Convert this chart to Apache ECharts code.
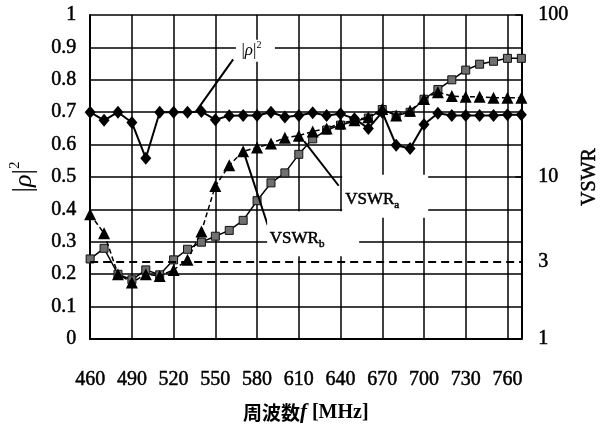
<!DOCTYPE html>
<html>
<head>
<meta charset="utf-8">
<script src="https://cdn.jsdelivr.net/npm/echarts@6/dist/echarts.min.js"></script>
<style>
  html, body { margin: 0; padding: 0; background: #fff; }
  #c { width: 608px; height: 428px; }
</style>
</head>
<body>
<div id="c"></div>
<script>
// Frequencies [MHz]
const freqs = [460, 470, 480, 490, 500, 510, 520, 530, 540, 550, 560, 570, 580, 590, 600, 610,
               620, 630, 640, 650, 660, 670, 680, 690, 700, 710, 720, 730, 740, 750, 760, 770];
// |rho|^2 (left axis)
const rho2 = [0.70, 0.675, 0.70, 0.668, 0.558, 0.70, 0.70, 0.70, 0.702, 0.677, 0.689, 0.69, 0.69, 0.70, 0.685, 0.69,
              0.698, 0.69, 0.695, 0.68, 0.65, 0.70, 0.598, 0.588, 0.662, 0.697, 0.69, 0.69, 0.69, 0.69, 0.692, 0.692];
// VSWR_a (squares, right log axis)
const vswrA = [3.12, 3.63, 2.51, 2.32, 2.67, 2.49, 3.08, 3.58, 3.96, 4.31, 4.68, 5.40, 7.14, 9.20, 10.6, 13.8,
               17.2, 19.5, 20.9, 22.1, 23.1, 26.1, 24.0, 25.1, 30.2, 34.7, 39.8, 45.7, 49.7, 51.8, 54.0, 54.0];
// VSWR_b (triangles, right log axis)
const vswrB = [5.89, 4.49, 2.51, 2.23, 2.51, 2.45, 2.67, 3.08, 4.61, 8.79, 11.8, 14.4, 15.2, 16.1, 17.5, 18.0,
               19.1, 19.9, 21.4, 22.4, 23.4, 26.3, 24.0, 25.6, 30.3, 33.4, 31.6, 31.3, 31.3, 30.9, 30.8, 30.8];
// Reference VSWR level (dashed line)
const vswrRef = 3;

const serif = '"Liberation Serif", "Times New Roman", serif';
const heavy = { textBorderColor: '#000', textBorderWidth: 0.5 };
const chart = echarts.init(document.getElementById('c'));

const pair = arr => freqs.map((f, i) => [f, arr[i]]);

const option = {
  animation: false,
  backgroundColor: '#fff',
  grid: { left: 90, right: 81, top: 15, bottom: 85 },
  xAxis: {
    type: 'value', min: 460, max: 770, interval: 30,
    axisLine: { show: true, onZero: false, lineStyle: { color: '#000', width: 2 } },
    axisTick: { show: false },
    axisLabel: Object.assign({ color: '#000', fontFamily: serif, fontSize: 20, margin: 31,
                 formatter: v => (v > 765 ? '' : String(v)) }, heavy),
    splitLine: { show: true, lineStyle: { color: '#000', width: 1.5 } },
    name: '{c|周波数}{i|f}{t| [MHz]}',
    nameLocation: 'middle', nameGap: 63,
    nameTextStyle: {
      rich: {
        c: { fontFamily: '"Noto Sans CJK JP"', fontWeight: 'bold', fontSize: 19, color: '#000' },
        i: { fontFamily: serif, fontStyle: 'italic', fontWeight: 'bold', fontSize: 21, color: '#000' },
        t: { fontFamily: serif, fontWeight: 'bold', fontSize: 20, color: '#000' }
      }
    }
  },
  yAxis: [
    {
      type: 'value', min: 0, max: 1, interval: 0.1, position: 'left',
      axisLine: { show: true, lineStyle: { color: '#000', width: 2 } },
      axisTick: { show: false },
      axisLabel: Object.assign({ color: '#000', fontFamily: serif, fontSize: 20, margin: 14 }, heavy),
      splitLine: { show: true, lineStyle: { color: '#000', width: 1.5 } },
      name: '|{i|ρ}|{s|2}',
      nameLocation: 'middle', nameGap: 50, nameRotate: 90,
      nameTextStyle: {
        fontFamily: serif, fontSize: 27, color: '#000', lineHeight: 32,
        rich: {
          i: { fontFamily: serif, fontStyle: 'italic', fontSize: 26, color: '#000', lineHeight: 32 },
          s: { fontFamily: serif, fontSize: 15, color: '#000', verticalAlign: 'top', lineHeight: 32 }
        }
      }
    },
    {
      type: 'log', logBase: 10, min: 1, max: 100, position: 'right',
      axisLine: { show: true, lineStyle: { color: '#000', width: 2 } },
      axisTick: { show: true, inside: true, length: 6, lineStyle: { color: '#000', width: 1.5 } },
      axisLabel: Object.assign({ color: '#000', fontFamily: serif, fontSize: 20, margin: 17 }, heavy),
      splitLine: { show: false },
      name: 'VSWR',
      nameLocation: 'middle', nameGap: 48, nameRotate: 90,
      nameTextStyle: Object.assign({ fontFamily: serif, fontSize: 20, color: '#000' }, heavy)
    }
  ],
  series: [
    {
      name: 'VSWRa', type: 'line', yAxisIndex: 1, data: pair(vswrA),
      symbol: 'rect', symbolSize: 8,
      itemStyle: { color: '#707070', borderColor: '#111', borderWidth: 1 },
      lineStyle: { color: '#000', width: 1.5 },
      z: 2
    },
    {
      name: 'rho2', type: 'line', yAxisIndex: 0, data: pair(rho2),
      symbol: 'diamond', symbolSize: [11, 13],
      itemStyle: { color: '#000' },
      lineStyle: { color: '#000', width: 2 },
      z: 3,
      markLine: {
        silent: true, symbol: ['none', 'none'],
        label: { show: false },
        lineStyle: { color: '#000', width: 2, type: 'solid' },
        data: [
          [{ coord: [562.8, 0.863] }, { coord: [535.9, 0.701] }],
          [{ coord: [587.7, 0.351] }, { coord: [570.0, 0.582] }],
          [{ coord: [638.7, 0.473] }, { coord: [613.9, 0.610] }]
        ]
      },
      markPoint: {
        silent: true,
        symbol: 'rect',
        itemStyle: { color: '#fff' },
        label: { show: true, position: 'inside', color: '#000' },
        data: [
          { coord: [578.8, 0.890], symbolSize: [39, 22],
            label: { formatter: '|{i|ρ}|{s|2}', offset: [-4, 0],
              fontFamily: serif, fontSize: 17, lineHeight: 20,
              rich: {
                i: { fontFamily: serif, fontStyle: 'italic', fontSize: 17, lineHeight: 20 },
                s: { fontFamily: serif, fontSize: 10, verticalAlign: 'top', lineHeight: 20 }
              } } },
          { coord: [672.1, 0.4405], symbolSize: [86, 43],
            label: { formatter: '{n|VSWR}{s|a}', offset: [-13, 3],
              rich: {
                n: Object.assign({ fontFamily: serif, fontSize: 17, lineHeight: 22, verticalAlign: 'middle' }, heavy),
                s: Object.assign({ fontFamily: serif, fontSize: 11, lineHeight: 22, verticalAlign: 'bottom' }, heavy)
              } } },
          { coord: [620.3, 0.3247], symbolSize: [92, 45],
            label: { formatter: '{n|VSWR}{s|b}', offset: [-16, 5],
              rich: {
                n: Object.assign({ fontFamily: serif, fontSize: 17, lineHeight: 22, verticalAlign: 'middle' }, heavy),
                s: Object.assign({ fontFamily: serif, fontSize: 11, lineHeight: 22, verticalAlign: 'bottom' }, heavy)
              } } }
        ]
      }
    },
    {
      name: 'VSWRb', type: 'line', yAxisIndex: 1, data: pair(vswrB),
      symbol: 'triangle', symbolSize: 12,
      itemStyle: { color: '#000' },
      lineStyle: { color: '#000', width: 1.5, type: [5, 3] },
      z: 4,
      markLine: {
        silent: true, symbol: ['none', 'none'],
        lineStyle: { color: '#000', width: 2, type: [8, 5] },
        label: Object.assign({ show: true, position: 'end', formatter: String(vswrRef), distance: 17,
                 color: '#000', fontFamily: serif, fontSize: 20, padding: [0, 0, 24, 0] }, heavy),
        data: [{ yAxis: vswrRef }]
      }
    }
  ]
};
chart.setOption(option);
</script>
</body>
</html>
